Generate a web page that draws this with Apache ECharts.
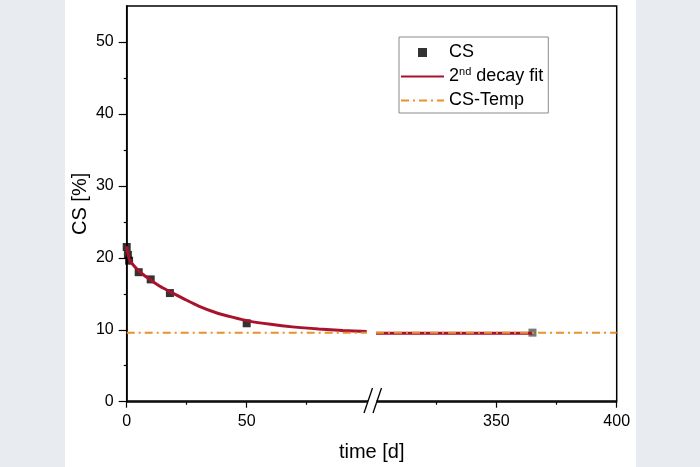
<!DOCTYPE html>
<html>
<head>
<meta charset="utf-8">
<script src="https://cdn.jsdelivr.net/npm/echarts@6/dist/echarts.min.js"></script>
<style>
  html, body { margin: 0; padding: 0; background: #e8ebef; }
  #panel { position: absolute; left: 65px; top: 0; width: 571px; height: 467px; background: #fff; }
  #main { position: absolute; left: 0; top: 0; width: 700px; height: 467px; }
</style>
</head>
<body>
<div id="panel"></div>
<div id="main"></div>
<script>
  // measured points (time in days, CS in %)
  var csDays = [0, 0.5, 1, 5, 10, 18, 50, 365];
  var csValues = [21.5, 20.4, 19.6, 18.0, 17.0, 15.1, 10.9, 9.6];

  // fit curve
  var fitDays = [0, 0.5, 1, 2, 3, 5, 7.5, 10, 14, 18, 25, 30, 37, 44, 51, 60, 69, 80, 90, 100, 300, 365];
  var fitValues = [21.6, 20.5, 19.9, 19.3, 18.9, 18.2, 17.5, 16.9, 16.0, 15.3, 14.1, 13.3, 12.4, 11.75, 11.2, 10.75, 10.4, 10.1, 9.9, 9.75, 9.5, 9.5];

  var tempDays = [0, 100, 300, 400];
  var tempValues = [9.6, 9.6, 9.6, 9.6];

  // broken x axis: 0-100 | 300-400
  var leftRange = [0, 100];
  var rightRange = [300, 400];
  var leftTicks = [0, 50], leftMinor = [25, 75];
  var rightTicks = [350, 400], rightMinor = [325, 375];
  var yTicks = [0, 10, 20, 30, 40, 50], yMinor = [5, 15, 25, 35, 45];

  var fitName = "2nd decay fit";
  var font = "Liberation Sans, Arial, sans-serif";

  function pairs(xs, ys, lo, hi) {
    var out = [];
    for (var i = 0; i < xs.length; i++) {
      if (xs[i] >= lo && xs[i] <= hi) out.push([xs[i], ys[i]]);
    }
    return out;
  }

  var myChart = echarts.init(document.getElementById("main"));

  var plotTop = 6, plotHeight = 395.7;

  function mainX(grid, range, ticks) {
    return {
      type: "value", gridIndex: grid, position: "bottom", min: range[0], max: range[1],
      axisLine: { lineStyle: { color: "#000", width: 1.5 } },
      axisTick: { customValues: ticks, length: 6, lineStyle: { color: "#000", width: 1.2 } },
      axisLabel: { customValues: ticks, fontSize: 16, color: "#000", margin: 12, fontFamily: font },
      splitLine: { show: false }
    };
  }
  function minorX(grid, range, ticks) {
    return {
      type: "value", gridIndex: grid, position: "bottom", min: range[0], max: range[1],
      axisLine: { show: false },
      axisTick: { customValues: ticks, length: 3, lineStyle: { color: "#000", width: 1.2 } },
      axisLabel: { show: false },
      splitLine: { show: false }
    };
  }

  var options = {
    animation: false,
    grid: [
      { left: 126.7, top: plotTop, width: 240, height: plotHeight },
      { left: 376, top: plotTop, width: 240.7, height: plotHeight },
      // frame round the whole plot
      { left: 126.7, top: plotTop, width: 490, height: plotHeight, show: true,
        borderColor: "#000", borderWidth: 1.5, backgroundColor: "transparent" }
    ],
    xAxis: [
      mainX(0, leftRange, leftTicks),
      minorX(0, leftRange, leftMinor),
      mainX(1, rightRange, rightTicks),
      minorX(1, rightRange, rightMinor),
      {
        type: "value", gridIndex: 2, min: 0, max: 1,
        name: "time [d]", nameLocation: "middle", nameGap: 41,
        nameTextStyle: { fontSize: 20, color: "#000", fontFamily: font },
        axisLine: { show: false }, axisTick: { show: false },
        axisLabel: { show: false }, splitLine: { show: false }
      }
    ],
    yAxis: [
      {
        type: "value", gridIndex: 0, position: "left", min: 0, max: 55,
        name: "CS [%]", nameLocation: "middle", nameGap: 36,
        nameTextStyle: { fontSize: 20, color: "#000", fontFamily: font },
        axisLine: { show: true, lineStyle: { color: "#000", width: 1.5 } },
        axisTick: { show: true, customValues: yTicks, length: 8, lineStyle: { color: "#000", width: 1.2 } },
        axisLabel: { customValues: yTicks, fontSize: 16, color: "#000", margin: 13, fontFamily: font },
        splitLine: { show: false }
      },
      {
        type: "value", gridIndex: 0, position: "left", min: 0, max: 55,
        axisLine: { show: false },
        axisTick: { show: true, customValues: yMinor, length: 3, lineStyle: { color: "#000", width: 1.2 } },
        axisLabel: { show: false }, splitLine: { show: false }
      },
      { type: "value", gridIndex: 1, min: 0, max: 55, show: false },
      { type: "value", gridIndex: 2, min: 0, max: 1, show: false }
    ],
    legend: {
      orient: "vertical",
      left: 399,
      top: 37,
      padding: [5, 5, 2, 1],
      itemGap: 3,
      itemWidth: 43,
      itemHeight: 9,
      backgroundColor: "#fff",
      borderColor: "#8a8a8a",
      borderWidth: 1,
      textStyle: {
        fontSize: 18, lineHeight: 21, color: "#000", fontFamily: font,
        rich: {
          sup: { fontSize: 11, lineHeight: 19, verticalAlign: "top", color: "#000", fontFamily: font }
        }
      },
      formatter: function(name) {
        return name === fitName ? "2{sup|nd} decay fit" : name;
      },
      data: [
        { name: "CS", icon: "path://M0,0H10V10H0Z" },
        { name: fitName, itemStyle: { opacity: 0 } },
        { name: "CS-Temp", itemStyle: { opacity: 0 } }
      ]
    },
    series: [
      {
        name: "CS", type: "scatter", xAxisIndex: 0, yAxisIndex: 0,
        symbol: "rect", symbolSize: 8, itemStyle: { color: "#000" },
        data: pairs(csDays, csValues, leftRange[0], leftRange[1])
      },
      {
        name: "CS", type: "scatter", xAxisIndex: 2, yAxisIndex: 2,
        symbol: "rect", symbolSize: 8, itemStyle: { color: "#4f5a4b" },
        data: pairs(csDays, csValues, rightRange[0], rightRange[1])
      },
      {
        name: fitName, type: "line", xAxisIndex: 0, yAxisIndex: 0,
        symbol: "none", smooth: 0.25, itemStyle: { color: "#a8122c" },
        lineStyle: { color: "#a8122c", width: 3 },
        data: pairs(fitDays, fitValues, leftRange[0], leftRange[1])
      },
      {
        name: fitName, type: "line", xAxisIndex: 2, yAxisIndex: 2,
        symbol: "none", itemStyle: { color: "#a8122c" },
        lineStyle: { color: "#a8122c", width: 3 },
        data: pairs(fitDays, fitValues, rightRange[0], rightRange[1])
      },
      {
        name: "CS-Temp", type: "line", xAxisIndex: 0, yAxisIndex: 0,
        symbol: "none", itemStyle: { color: "#e8912e" },
        lineStyle: { color: "#e8912e", width: 2, type: [8, 4, 2, 4] },
        data: pairs(tempDays, tempValues, leftRange[0], leftRange[1])
      },
      {
        name: "CS-Temp", type: "line", xAxisIndex: 2, yAxisIndex: 2,
        symbol: "none", itemStyle: { color: "#e8912e" },
        lineStyle: { color: "#e8912e", width: 2, type: [8, 4, 2, 4] },
        data: pairs(tempDays, tempValues, rightRange[0], rightRange[1])
      }
    ],
    // "//" break mark on the x axis
    graphic: [
      { type: "rect", z: 100, shape: { x: 368, y: 399.5, width: 8.5, height: 4.5 }, style: { fill: "#fff" } },
      { type: "line", z: 101, shape: { x1: 364, y1: 413, x2: 372.5, y2: 388 }, style: { stroke: "#000", lineWidth: 1.3 } },
      { type: "line", z: 101, shape: { x1: 373, y1: 413, x2: 381.5, y2: 388 }, style: { stroke: "#000", lineWidth: 1.3 } }
    ]
  };

  myChart.setOption(options);
  window.addEventListener("resize", function() {
    myChart.resize();
  });
</script>
</body>
</html>
